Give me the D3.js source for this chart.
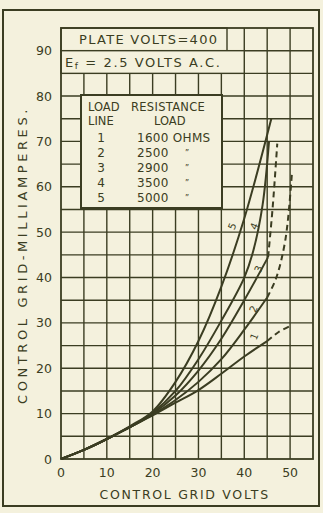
<!DOCTYPE html>
<html>
<head>
<meta charset="utf-8">
<script src="https://cdn.jsdelivr.net/npm/d3@7"></script>
<style>
  body { margin: 0; background: #f4f1dd; }
  svg text { font-family: "DejaVu Sans", sans-serif; fill: #3b3d22; }
</style>
</head>
<body>
<div id="chart"></div>
<script>
// grid current curves, one per load line (control grid volts -> mA)
var volts1 = [0, 5, 10, 15, 20, 25, 30, 35, 40, 45];
var curve1 = [0, 2, 4.4, 7, 9.6, 12.4, 15.2, 18.8, 22.6, 26];
var volts2 = [0, 5, 10, 15, 20, 25, 30, 35, 40, 45];
var curve2 = [0, 2, 4.4, 7, 9.8, 13, 17, 22, 28.5, 35.6];
var volts3 = [0, 5, 10, 15, 20, 25, 30, 35, 40, 45.2];
var curve3 = [0, 2, 4.4, 7, 10, 14, 19.5, 26.5, 35, 44.5];
var volts4 = [0, 5, 10, 15, 20, 25, 30, 35, 40, 42, 44, 45.4];
var curve4 = [0, 2, 4.4, 7, 10.2, 15, 22, 30.5, 40, 46, 56, 70];
var volts5 = [0, 5, 10, 15, 20, 25, 30, 35, 40, 45.9];
var curve5 = [0, 2, 4.4, 7.2, 10.5, 17, 26, 38, 53, 75];

// dashed extrapolations
var dashV1 = [45, 47.5, 50.4];
var dashI1 = [26, 28, 29.5];
var dashV2 = [45, 47, 49, 50.4];
var dashI2 = [35.6, 40, 48.5, 63];
var dashV3 = [45.2, 46.2, 47.2];
var dashI3 = [44.5, 55.5, 69.5];

// curve number labels
var curveLabels = ["1", "2", "3", "4", "5"];
var labelV = [42.9, 42.7, 43.8, 42.9, 38.1];
var labelI = [26.7, 32.8, 41.6, 51, 51];

var xTicks = [0, 10, 20, 30, 40, 50];
var yTicks = [0, 10, 20, 30, 40, 50, 60, 70, 80, 90];

var legendNums  = ["1", "2", "3", "4", "5"];
var legendLoads = ["1600", "2500", "2900", "3500", "5000"];

var W = 323, H = 513;
var ink = "#3b3d22", paper = "#f4f1dd";

var svg = d3.select("#chart").append("svg")
  .attr("width", W).attr("height", H);

svg.append("rect").attr("width", W).attr("height", H).attr("fill", paper);

var x = d3.scaleLinear().domain([0, 55]).range([61, 313]);
var y = d3.scaleLinear().domain([0, 95]).range([459, 28]);

// grid every 5 units
var g = svg.append("g");
g.selectAll(".vx").data(d3.range(5, 55, 5)).enter().append("line")
  .attr("x1", d => x(d)).attr("x2", d => x(d))
  .attr("y1", y(0)).attr("y2", y(95))
  .attr("stroke", ink).attr("stroke-width", 1.4);
g.selectAll(".hy").data(d3.range(5, 95, 5)).enter().append("line")
  .attr("x1", x(0)).attr("x2", x(55))
  .attr("y1", d => y(d)).attr("y2", d => y(d))
  .attr("stroke", ink).attr("stroke-width", 1.4);

// header boxes
svg.append("rect").attr("x", x(0)).attr("y", y(95)).attr("width", 166).attr("height", y(90) - y(95))
  .attr("fill", paper).attr("stroke", ink).attr("stroke-width", 1.4);
svg.append("rect").attr("x", x(0)).attr("y", y(90)).attr("width", x(40) - x(0)).attr("height", y(85) - y(90))
  .attr("fill", paper).attr("stroke", ink).attr("stroke-width", 1.4);
svg.append("text").attr("x", 79).attr("y", y(92.5) + 5)
  .attr("font-size", 13).attr("letter-spacing", 1.3).text("PLATE VOLTS=400");
var ef = svg.append("text").attr("x", 65).attr("y", y(87.5) + 5)
  .attr("font-size", 13).attr("letter-spacing", 1.6);
ef.append("tspan").text("E");
ef.append("tspan").attr("font-size", 9).attr("dy", 2).text("f");
ef.append("tspan").attr("dy", -2).text(" = 2.5  VOLTS  A.C.");

// frame
svg.append("rect").attr("x", x(0)).attr("y", y(95)).attr("width", x(55) - x(0)).attr("height", y(0) - y(95))
  .attr("fill", "none").attr("stroke", ink).attr("stroke-width", 1.8);

// legend
var lg = svg.append("g");
lg.append("rect").attr("x", 81).attr("y", 95).attr("width", 141).attr("height", 113)
  .attr("fill", paper).attr("stroke", ink).attr("stroke-width", 2);
lg.append("text").attr("x", 88).attr("y", 111).attr("font-size", 11.5).text("LOAD");
lg.append("text").attr("x", 131).attr("y", 111).attr("font-size", 11.5).attr("letter-spacing", 0.3).text("RESISTANCE");
lg.append("text").attr("x", 88).attr("y", 125).attr("font-size", 11.5).text("LINE");
lg.append("text").attr("x", 154).attr("y", 125).attr("font-size", 11.5).text("LOAD");
legendNums.forEach(function(n, i) {
  var yy = 142 + i * 15;
  lg.append("text").attr("x", 101).attr("y", yy).attr("text-anchor", "middle").attr("font-size", 12).text(n);
  lg.append("text").attr("x", 137).attr("y", yy).attr("font-size", 12).attr("letter-spacing", 0.3)
    .text(legendLoads[i] + (i === 0 ? " OHMS" : ""));
  if (i > 0) lg.append("text").attr("x", 185).attr("y", yy - 1).attr("font-size", 8).text("\u201D");
});

// curves
var line = d3.line().x(d => x(d[0])).y(d => y(d[1])).curve(d3.curveCatmullRom.alpha(0.5));
var solids = [
  d3.zip(volts1, curve1), d3.zip(volts2, curve2), d3.zip(volts3, curve3),
  d3.zip(volts4, curve4), d3.zip(volts5, curve5)
];
var dashes = [d3.zip(dashV1, dashI1), d3.zip(dashV2, dashI2), d3.zip(dashV3, dashI3)];
svg.append("g").selectAll("path").data(solids).enter().append("path")
  .attr("d", line).attr("fill", "none").attr("stroke", ink).attr("stroke-width", 2);
svg.append("g").selectAll("path").data(dashes).enter().append("path")
  .attr("d", line).attr("fill", "none").attr("stroke", ink).attr("stroke-width", 2)
  .attr("stroke-dasharray", "6,4");

svg.append("g").selectAll("text").data(curveLabels).enter().append("text")
  .attr("transform", (d, i) => "translate(" + x(labelV[i]) + "," + y(labelI[i]) + ") rotate(-68)")
  .attr("font-size", 10).attr("text-anchor", "middle")
  .text(d => d);

// tick labels
svg.append("g").selectAll("text").data(xTicks).enter().append("text")
  .attr("x", d => x(d)).attr("y", 477).attr("text-anchor", "middle")
  .attr("font-size", 12.5).text(d => d);
svg.append("g").selectAll("text").data(yTicks).enter().append("text")
  .attr("x", 52).attr("y", d => y(d) + 4.5).attr("text-anchor", "end")
  .attr("font-size", 12.5).text(d => d);

// axis titles
svg.append("text").attr("x", x(27)).attr("y", 499).attr("text-anchor", "middle")
  .attr("font-size", 12.5).attr("letter-spacing", 1.7).text("CONTROL GRID VOLTS");
svg.append("text").attr("transform", "translate(27," + 255 + ") rotate(-90)")
  .attr("text-anchor", "middle").attr("font-size", 13).attr("letter-spacing", 3.6)
  .text("CONTROL GRID-MILLIAMPERES.");

// photo border
svg.append("rect").attr("x", 3).attr("y", 10).attr("width", 316).attr("height", 496)
  .attr("fill", "none").attr("stroke", ink).attr("stroke-width", 2);
</script>
</body>
</html>
